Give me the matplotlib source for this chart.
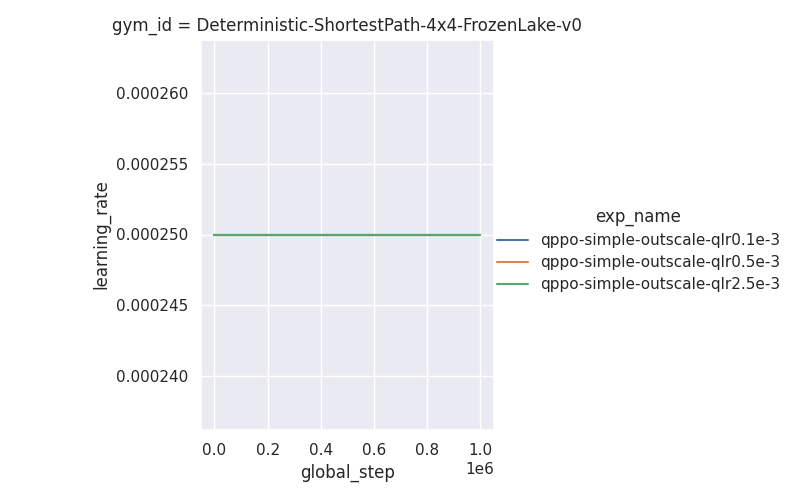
import matplotlib
matplotlib.use("Agg")
import matplotlib.pyplot as plt
import seaborn as sns

sns.set_theme()

gym_id = "Deterministic-ShortestPath-4x4-FrozenLake-v0"
exp_names = [
    "qppo-simple-outscale-qlr0.1e-3",
    "qppo-simple-outscale-qlr0.5e-3",
    "qppo-simple-outscale-qlr2.5e-3",
]
global_step = [0, 1000000]
learning_rate = {
    "qppo-simple-outscale-qlr0.1e-3": [0.00025, 0.00025],
    "qppo-simple-outscale-qlr0.5e-3": [0.00025, 0.00025],
    "qppo-simple-outscale-qlr2.5e-3": [0.00025, 0.00025],
}
colors = sns.color_palette("deep", 3)

fig = plt.figure(figsize=(7.95, 5.0), dpi=100)
ax = fig.add_axes([0.253, 0.141, 0.368, 0.780])

for name, c in zip(exp_names, colors):
    ax.plot(global_step, learning_rate[name], color=c, lw=1.5, label=name)

ax.set_xlabel("global_step")
ax.set_ylabel("learning_rate")
ax.set_title(f"gym_id = {gym_id}")
ax.set_xticks([0, 200000, 400000, 600000, 800000, 1000000])
ax.set_yticks([0.00024, 0.000245, 0.00025, 0.000255, 0.00026])
ax.set_yticklabels(["0.000240", "0.000245", "0.000250", "0.000255", "0.000260"])

handles, labels = ax.get_legend_handles_labels()
leg = fig.legend(handles, labels, title="exp_name", loc="center left",
                 bbox_to_anchor=(0.608, 0.50), frameon=False,
                 labelspacing=0.45)

fig.savefig("out.png", dpi=100)
